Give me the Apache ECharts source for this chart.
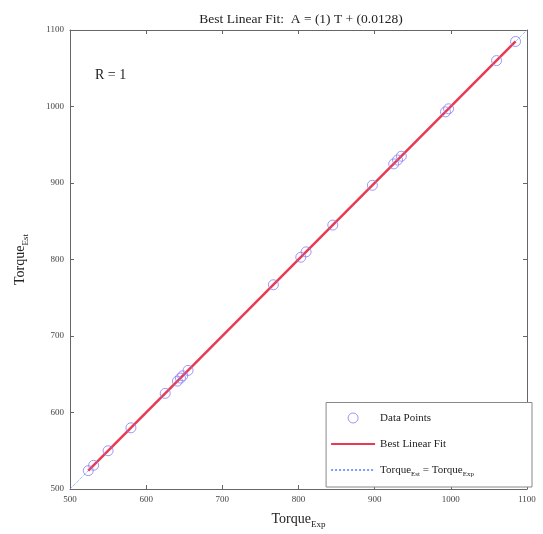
<!DOCTYPE html>
<html>
<head>
<meta charset="utf-8">
<script src="https://cdn.jsdelivr.net/npm/echarts@6/dist/echarts.min.js"></script>
<style>
  html, body { margin: 0; padding: 0; background: #fff; }
  #grafico { width: 543px; height: 534px; }
</style>
</head>
<body>
<div id="grafico"></div>
<script>
const torqueExp = [524, 531, 550, 580, 625, 641, 645, 648, 655, 767, 803, 810, 845, 897, 925, 930, 935, 993, 997, 1060, 1085];
const torqueEst = [524, 531, 550, 580, 625, 641, 645, 648, 655, 767, 803, 810, 845, 897, 925, 930, 935, 993, 997, 1060, 1085];
const fitLine = [[524, 524.0128], [1085, 1085.0128]];
const idLine = [[500, 500], [1100, 1100]];

const fuente = 'Liberation Serif';
const grafico = document.getElementById('grafico');
const myChart = echarts.init(grafico);

const puntos = torqueExp.map((v, i) => [v, torqueEst[i]]);

const ejeBase = {
  type: 'value',
  min: 500,
  max: 1100,
  interval: 100,
  axisLine: { show: true, lineStyle: { color: '#666', width: 1 } },
  axisTick: { show: true, inside: true, length: 4, lineStyle: { color: '#666' } },
  splitLine: { show: false }
};

const etiqueta = { fontFamily: fuente, fontSize: 9, color: '#444', margin: 6, formatter: v => String(v) };

const options = {
  animation: false,
  backgroundColor: '#fff',
  title: {
    text: 'Best Linear Fit:  A = (1) T + (0.0128)',
    left: 296,
    textAlign: 'center',
    top: 7,
    textStyle: { fontFamily: fuente, fontSize: 13.5, fontWeight: 'normal', color: '#222' }
  },
  grid: { left: 70, right: 16, top: 30, bottom: 40 },
  xAxis: [
    Object.assign({}, ejeBase, {
      position: 'bottom',
      name: '{a|Torque}{b|Exp}',
      nameLocation: 'middle',
      nameGap: 20,
      nameTextStyle: {
        rich: {
          a: { fontFamily: fuente, fontSize: 14, color: '#222' },
          b: { fontFamily: fuente, fontSize: 9, color: '#222', padding: [11, 0, 0, 0] }
        }
      },
      axisLabel: etiqueta
    }),
    Object.assign({}, ejeBase, { position: 'top', axisLabel: { show: false } })
  ],
  yAxis: [
    Object.assign({}, ejeBase, {
      position: 'left',
      name: '{a|Torque}{b|Est}',
      nameLocation: 'middle',
      nameGap: 40,
      nameTextStyle: {
        rich: {
          a: { fontFamily: fuente, fontSize: 14, color: '#222' },
          b: { fontFamily: fuente, fontSize: 9, color: '#222', padding: [11, 0, 0, 0] }
        }
      },
      axisLabel: etiqueta
    }),
    Object.assign({}, ejeBase, { position: 'right', axisLabel: { show: false } })
  ],
  legend: {
    orient: 'vertical',
    right: 11,
    bottom: 47,
    backgroundColor: '#fff',
    borderColor: '#888',
    borderWidth: 1,
    padding: [10, 58, 9, 4],
    itemGap: 15,
    itemWidth: 44,
    itemHeight: 10,
    textStyle: {
      fontFamily: fuente, fontSize: 11, color: '#222',
      rich: {
        a: { fontFamily: fuente, fontSize: 11, color: '#222' },
        b: { fontFamily: fuente, fontSize: 7, color: '#222', padding: [9, 0, 0, 0] }
      }
    },
    formatter: function (name) {
      if (name === 'ident') return '{a|Torque}{b|Est}{a| = Torque}{b|Exp}';
      return name;
    },
    data: [
      { name: 'Data Points', icon: 'circle', itemStyle: { color: 'transparent', borderColor: '#8a7cf0', borderWidth: 1 } },
      { name: 'Best Linear Fit', itemStyle: { opacity: 0 } },
      { name: 'ident', itemStyle: { opacity: 0 } }
    ]
  },
  series: [
    {
      name: 'ident',
      type: 'line',
      data: idLine,
      symbol: 'none',
      lineStyle: { color: '#7a9cff', width: 1, type: 'dotted' },
      z: 1
    },
    {
      name: 'Best Linear Fit',
      type: 'line',
      data: fitLine,
      symbol: 'none',
      lineStyle: { color: '#e83a52', width: 2.5 },
      z: 2
    },
    {
      name: 'Data Points',
      type: 'scatter',
      data: puntos,
      symbol: 'circle',
      symbolSize: 10,
      itemStyle: { color: 'transparent', borderColor: '#8a7cf0', borderWidth: 1 },
      z: 3
    }
  ],
  graphic: [
    {
      type: 'text',
      left: 95,
      top: 68,
      style: { text: 'R = 1', fontFamily: fuente, fontSize: 14, fill: '#222' }
    }
  ]
};
myChart.setOption(options);
</script>
</body>
</html>
